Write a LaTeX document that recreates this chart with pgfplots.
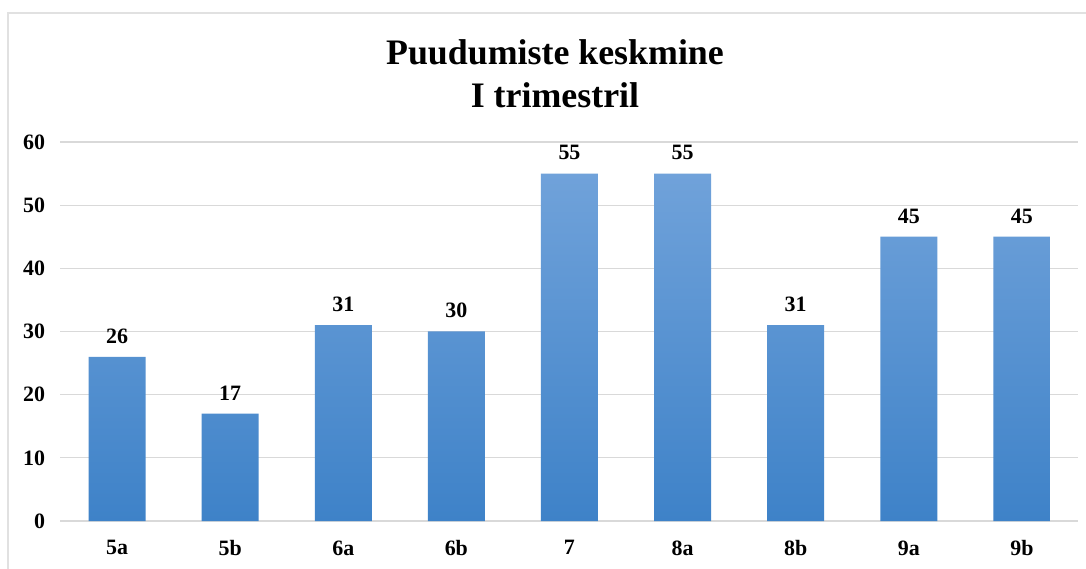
\documentclass[border=0pt]{standalone}
\usepackage{fontspec}
\setmainfont{Liberation Serif}
\usepackage{pgfplots}
\pgfplotsset{compat=1.18}

\definecolor{bartop}{RGB}{112,162,218}
\definecolor{barbot}{RGB}{62,130,200}
\definecolor{gridgray}{RGB}{217,217,217}
\definecolor{framegray}{RGB}{225,225,225}

\begin{document}
\begin{tikzpicture}
\path[use as bounding box] (-60.5bp,-48bp) rectangle (1025.5bp,521bp);
\fill[white] (-60.5bp,-48bp) rectangle (1025.5bp,521bp);
\draw[framegray, line width=1.2bp] (-52.5bp,-60bp) -- (-52.5bp,508bp) -- (1030bp,508bp);
\begin{axis}[
  at={(0,0)}, anchor=south west,
  scale only axis,
  width=1018bp, height=379bp,
  xmin=-0.5, xmax=8.5,
  ymin=0, ymax=60,
  ytick={0,10,...,60},
  xtick=data,
  xticklabels={5a,5b,6a,6b,7,8a,8b,9a,9b},
  ymajorgrids,
  grid style={gridgray, line width=1.3bp},
  axis line style={draw=none},
  major tick length=0pt,
  tick label style={font=\fontsize{22}{26}\selectfont\bfseries},
  yticklabel style={xshift=-12bp},
  xticklabel style={yshift=-16bp},
  /pgf/number format/assume math mode=true,
  ybar, bar width=57bp,
  nodes near coords,
  every node near coord/.append style={font=\fontsize{22}{26}\selectfont\bfseries, yshift=10bp},
  clip=false,
]
  \addplot[draw=none, top color=bartop, bottom color=barbot]
    coordinates {(0,26)(1,17)(2,31)(3,30)(4,55)(5,55)(6,31)(7,45)(8,45)};
\end{axis}
\node[font=\fontsize{36}{42}\selectfont\bfseries] at (494.5bp,469bp) {Puudumiste keskmine};
\node[font=\fontsize{36}{42}\selectfont\bfseries] at (494.5bp,426bp) {I trimestril};
\end{tikzpicture}
\end{document}
